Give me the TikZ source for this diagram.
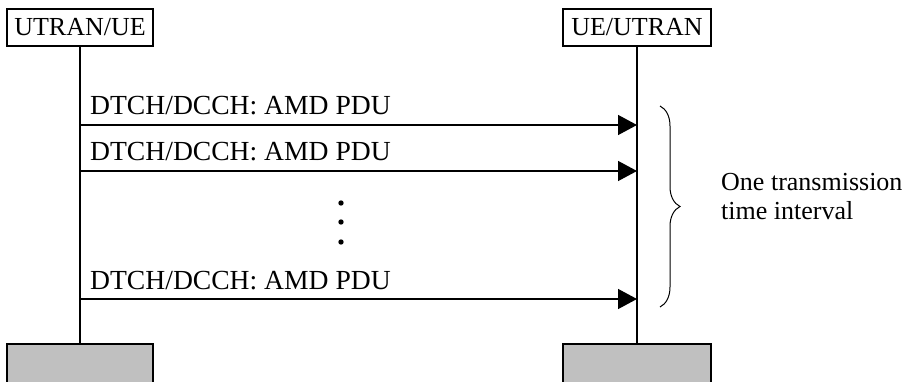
\documentclass[tikz,border=0pt]{standalone}
\usepackage{fontspec}
\setmainfont{Liberation Serif}
\usetikzlibrary{arrows.meta}
\usetikzlibrary{decorations.pathreplacing}
\definecolor{boxgray}{RGB}{192,192,192}
\tikzset{
	>={Triangle[length=19pt,width=20pt]},
	txt/.style={font=\fontsize{26}{29}\selectfont},
	entity/.style={txt, draw, line width=1.2pt, inner sep=0pt, minimum height=37pt},
	buffer/.style={draw, line width=1.2pt, fill=boxgray, minimum width=146pt, minimum height=50pt},
	msg/.style={line width=1.4pt, ->},
	msglabel/.style={font=\fontsize{27.6}{30}\selectfont, anchor=base west, inner sep=0pt}
}

\begin{document}
\begin{tikzpicture}[x=1pt,y=-1pt]
	%\draw[help lines] (0,0) grid (905,382);
	\useasboundingbox (0,0) rectangle (905,382);
	\clip (0,0) rectangle (905,382);

	\node[entity, minimum width=146pt] (left) at (80,27.5) {UTRAN/UE};
	\node[entity, minimum width=148pt] (right) at (637,27.5) {UE/UTRAN};

	\node[buffer] (leftbuf) at (80,369) {};
	\node[buffer, minimum width=148pt] (rightbuf) at (637,369) {};

	\draw[line width=1.2pt] (left.south) -- (leftbuf.north);
	\draw[line width=1.2pt] (right.south) -- (rightbuf.north);

	\foreach \i/\y in {1/125,2/171,3/299}{
		\coordinate (s\i) at (80,\y);
		\coordinate (e\i) at (637,\y);
		\draw[msg] (s\i) -- (e\i);
		\node[msglabel] (l\i) at (90,\y-10) {DTCH/DCCH: AMD PDU};
	}

	\foreach \y in {203,222,242}{
		\fill (341,\y) circle (2.7pt);
	}

	\coordinate (btop) at (660,106);
	\coordinate (bbot) at (660,307);
	\draw[line width=1pt, decorate, decoration={brace, amplitude=20pt}] (btop) -- (bbot);

	\node[txt, anchor=base west, inner sep=0pt, align=left] (tti) at (721,220) {One transmission\\time interval};

\end{tikzpicture}
\end{document}
